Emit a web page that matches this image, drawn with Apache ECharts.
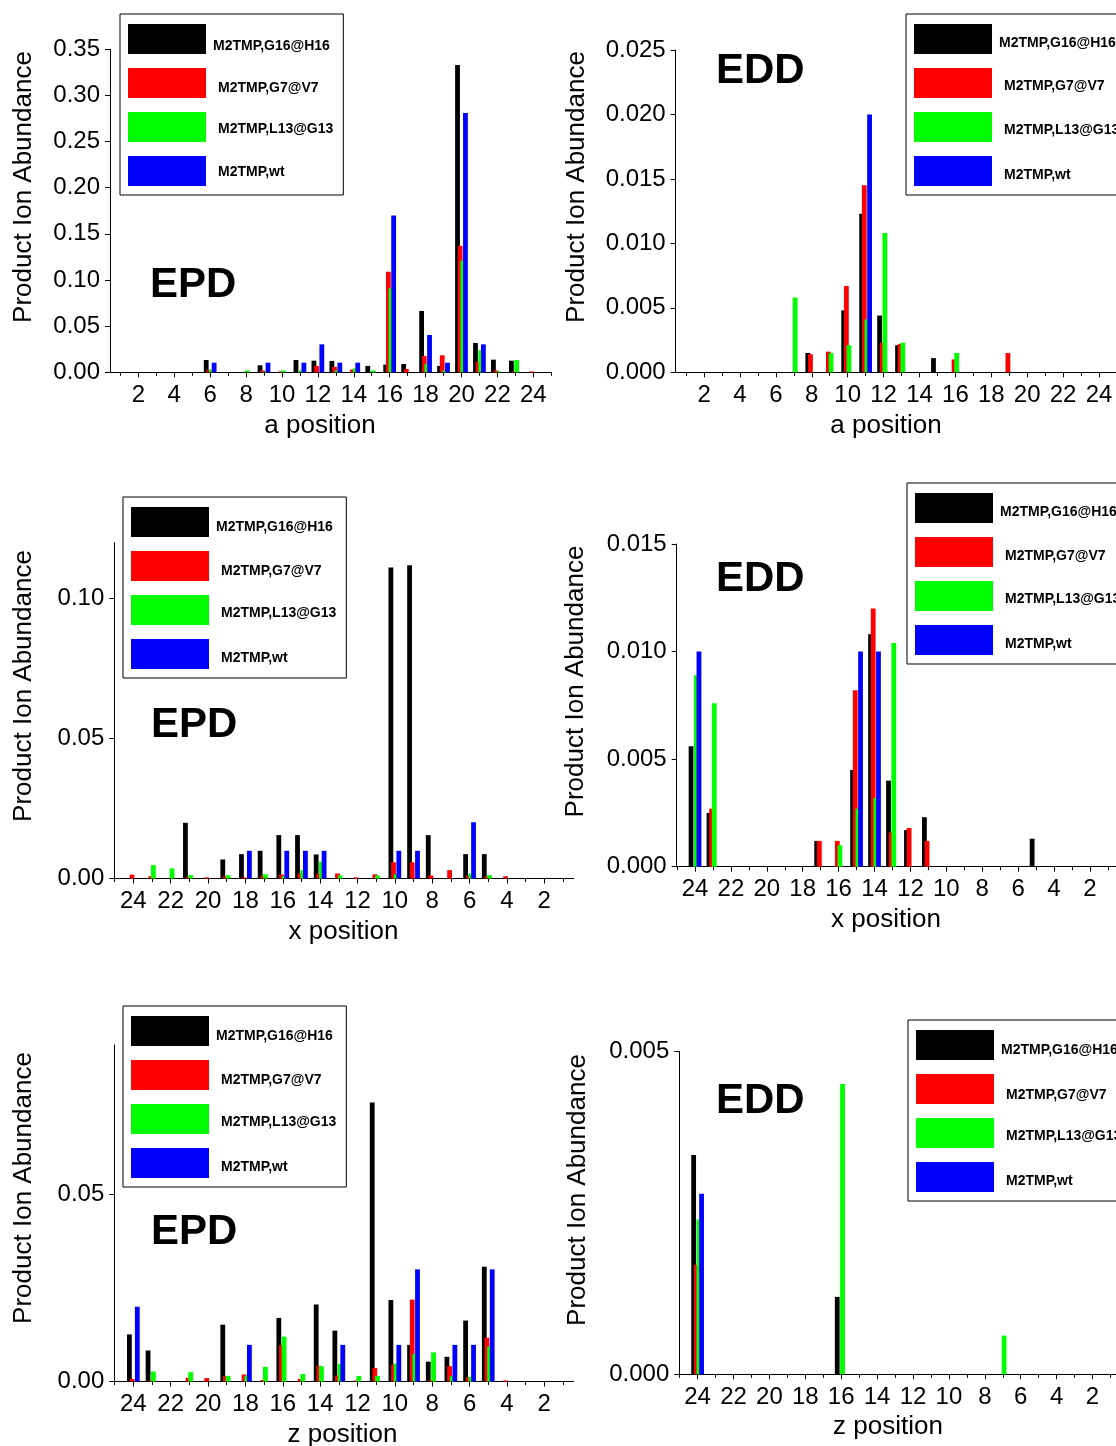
<!DOCTYPE html>
<html>
<head>
<meta charset="utf-8">
<script src="https://cdn.jsdelivr.net/npm/echarts@6/dist/echarts.min.js"></script>
<style>
html,body{margin:0;padding:0;background:#fff;}
#chart{width:1116px;height:1446px;}
</style>
</head>
<body>
<div id="chart"></div>
<script>
// ---------- data ----------
const positions = [1,2,3,4,5,6,7,8,9,10,11,12,13,14,15,16,17,18,19,20,21,22,23,24];
const majorTicks = [2,4,6,8,10,12,14,16,18,20,22,24];
const minorTicks = [1,3,5,7,9,11,13,15,17,19,21,23,25];
const seriesNames = ['M2TMP,G16@H16','M2TMP,G7@V7','M2TMP,L13@G13','M2TMP,wt'];
const seriesColors = ['#000000','#ff0000','#00ff00','#0000ff'];

// EPD, a position
const epdA_G16H16 = [0,0,0,0,0,0.0133,0,0,0.0076,0,0.0133,0.0126,0.0123,0,0.0069,0.0083,0.009,0.0665,0.0069,0.333,0.0318,0.0137,0.0126,0];
const epdA_G7V7   = [0,0,0,0,0,0.0025,0,0,0.002,0.001,0,0.0069,0.0058,0.003,0,0.109,0.0036,0.0177,0.0184,0.137,0.0116,0.002,0.001,0.001];
const epdA_L13G13 = [0,0,0,0,0,0.003,0,0.002,0.001,0.002,0.002,0,0.002,0.0043,0.002,0.091,0,0.009,0.002,0.121,0.0239,0.001,0.0133,0];
const epdA_wt     = [0,0,0,0,0,0.0104,0,0,0.0104,0,0.0104,0.0303,0.0104,0.0104,0,0.170,0,0.0404,0.0104,0.281,0.0303,0,0,0];

// EDD, a position
const eddA_G16H16 = [0,0,0,0,0,0,0,0.0015,0,0.0048,0.0123,0.0044,0.0021,0,0.0011,0,0,0,0,0,0,0,0,0];
const eddA_G7V7   = [0,0,0,0,0,0,0,0.0014,0.0016,0.0067,0.0145,0.0023,0.0022,0,0,0.001,0,0,0.0015,0,0,0,0,0];
const eddA_L13G13 = [0,0,0,0,0,0,0.0058,0,0.0015,0.0021,0.0041,0.0108,0.0023,0,0,0.0015,0,0,0,0,0,0,0,0];
const eddA_wt     = [0,0,0,0,0,0,0,0,0,0,0.020,0,0,0,0,0,0,0,0,0,0,0,0,0];

// EPD, x position
const epdX_G16H16 = [0,0,0,0,0.0087,0.0087,0,0.0155,0.1119,0.1111,0,0,0,0.0086,0.0155,0.0155,0.0099,0.0087,0.0068,0,0.0199,0,0,0];
const epdX_G7V7   = [0,0,0,0.0008,0.0008,0.001,0.003,0.0011,0.0058,0.0058,0.0015,0.0004,0.0018,0.0018,0.0018,0.0014,0.001,0.0004,0.0008,0.0004,0.0005,0,0.0008,0.0014];
const epdX_L13G13 = [0,0,0,0,0.0012,0.0018,0,0,0,0.0015,0.0011,0,0.0011,0.006,0.003,0.0008,0.0015,0,0.0012,0,0.0012,0.0036,0.0048,0];
const epdX_wt     = [0,0,0,0,0,0.0201,0,0,0.0099,0.0099,0,0,0,0.0099,0.0099,0.0099,0,0.0099,0,0,0,0,0,0];

// EDD, x position
const eddX_G16H16 = [0,0,0,0,0.0013,0,0,0,0,0,0.0023,0.0017,0.0040,0.0108,0.0045,0,0.0012,0,0,0,0,0,0.0025,0.0056];
const eddX_G7V7   = [0,0,0,0,0,0,0,0,0,0,0.0012,0.0018,0.0016,0.0120,0.0082,0.0012,0.0012,0,0,0,0,0,0.0027,0];
const eddX_L13G13 = [0,0,0,0,0,0,0,0,0,0,0,0,0.0104,0.0032,0.0027,0.0010,0,0,0,0,0,0,0.0076,0.0089];
const eddX_wt     = [0,0,0,0,0,0,0,0,0,0,0,0,0,0.0100,0.0100,0,0,0,0,0,0,0,0,0.0100];

// EPD, z position
const epdZ_G16H16 = [0,0,0,0,0.0307,0.0163,0.0066,0.0053,0.0098,0.0218,0.0746,0,0.0136,0.0206,0,0.0170,0,0,0.0152,0,0,0,0.0083,0.0126];
const epdZ_G7V7   = [0,0,0,0.0003,0.0117,0.0011,0.0041,0.0004,0.0219,0.0045,0.0036,0.0003,0.0016,0.0042,0.0007,0.0097,0.0004,0.0019,0.0015,0.0009,0.001,0,0.0003,0.0007];
const epdZ_L13G13 = [0,0,0,0,0.0094,0.0013,0.0014,0.0078,0.0074,0.0048,0.0015,0.0015,0.0047,0.0041,0.002,0.012,0.0039,0.0016,0.0015,0,0.0025,0,0.0027,0];
const epdZ_wt     = [0,0,0,0,0.030,0.0098,0.0098,0,0.030,0.0098,0,0,0.0098,0,0,0,0,0.0098,0,0,0,0,0,0.0200];

// EDD, z position
const eddZ_G16H16 = [0,0,0,0,0,0,0,0,0,0,0,0,0,0,0,0.0012,0,0,0,0,0,0,0,0.0034];
const eddZ_G7V7   = [0,0,0,0,0,0,0,0,0,0,0,0,0,0,0,0,0,0,0,0,0,0,0,0.0017];
const eddZ_L13G13 = [0,0,0,0,0,0,0.0006,0,0,0,0,0,0,0,0,0.0045,0,0,0,0,0,0,0,0.0024];
const eddZ_wt     = [0,0,0,0,0,0,0,0,0,0,0,0,0,0,0,0,0,0,0,0,0,0,0,0.0028];

// y tick values
const yTicksEpdA = [0,0.05,0.10,0.15,0.20,0.25,0.30,0.35];
const yTicksEddA = [0,0.005,0.010,0.015,0.020,0.025];
const yTicksEpdX = [0,0.05,0.10];
const yTicksEddX = [0,0.005,0.010,0.015];
const yTicksEpdZ = [0,0.05];
const yTicksEddZ = [0,0.005];

// ---------- layout ----------
const FONT = '"Liberation Sans", Arial, sans-serif';
const panels = [
  {grid:{left:110,top:49.3,width:441.6,height:323}, ymax:0.35, yticks:yTicksEpdA, dec:2, inverse:false,
   data:[epdA_G16H16,epdA_G7V7,epdA_L13G13,epdA_wt], legend:{left:120,top:14}, lh:[15,11,5,2],
   label:{text:'EPD',x:150,y:285}, ytitle:{x:24,y:187}, xtitle:{text:'a position',x:320,y:426}},
  {grid:{left:675.7,top:50,width:441.6,height:322.3}, ymax:0.025, yticks:yTicksEddA, dec:3, inverse:false,
   data:[eddA_G16H16,eddA_G7V7,eddA_L13G13,eddA_wt], legend:{left:906,top:14}, lh:[9,7,6,8],
   label:{text:'EDD',x:716,y:71}, ytitle:{x:577,y:187}, xtitle:{text:'a position',x:886,y:426}},
  {grid:{left:114.3,top:542.7,width:459.5,height:335.8}, ymax:0.12, yticks:yTicksEpdX, dec:2, inverse:true,
   data:[epdX_G16H16,epdX_G7V7,epdX_L13G13,epdX_wt], legend:{left:123,top:497}, lh:[10,10,6,8],
   label:{text:'EPD',x:151,y:725}, ytitle:{x:24,y:686}, xtitle:{text:'x position',x:343.5,y:931.5}},
  {grid:{left:676.7,top:544,width:441.6,height:322.7}, ymax:0.015, yticks:yTicksEddX, dec:3, inverse:true,
   data:[eddX_G16H16,eddX_G7V7,eddX_L13G13,eddX_wt], legend:{left:907,top:483}, lh:[9,9,6,8],
   label:{text:'EDD',x:716,y:579}, ytitle:{x:576,y:681.5}, xtitle:{text:'x position',x:886,y:919.7}},
  {grid:{left:114.3,top:1045,width:459.5,height:336.5}, ymax:0.09, yticks:yTicksEpdZ, dec:2, inverse:true,
   data:[epdZ_G16H16,epdZ_G7V7,epdZ_L13G13,epdZ_wt], legend:{left:123,top:1006}, lh:[10,10,6,8],
   label:{text:'EPD',x:151,y:1232}, ytitle:{x:24,y:1188}, xtitle:{text:'z position',x:342.5,y:1434.5}},
  {grid:{left:679.3,top:1051.7,width:441.6,height:322.6}, ymax:0.005, yticks:yTicksEddZ, dec:3, inverse:true,
   data:[eddZ_G16H16,eddZ_G7V7,eddZ_L13G13,eddZ_wt], legend:{left:908,top:1020}, lh:[10,12,6,9],
   label:{text:'EDD',x:716,y:1101}, ytitle:{x:578,y:1190}, xtitle:{text:'z position',x:888,y:1427.3}}
];

const grids=[], xAxes=[], yAxes=[], series=[], legends=[], graphics=[];
panels.forEach((p,i)=>{
  grids.push(Object.assign({outerBoundsMode:'none', containLabel:false}, p.grid));
  xAxes.push({
    gridIndex:i, type:'value', position:'bottom', min:0.42, max:25.02, inverse:p.inverse,
    splitLine:{show:false},
    axisLine:{show:true, onZero:false, lineStyle:{color:'#000', width:1}},
    axisTick:{show:true, customValues:majorTicks, length:5, lineStyle:{color:'#000', width:1}},
    axisLabel:{show:true, customValues:majorTicks, fontSize:24, fontFamily:FONT, color:'#000', margin:11}
  });
  // minor ticks: a second axis on the same grid, moved onto the bottom edge
  xAxes.push({
    gridIndex:i, type:'value', position:'top', offset:-p.grid.height, min:0.42, max:25.02, inverse:p.inverse,
    splitLine:{show:false},
    axisLine:{show:false, onZero:false},
    axisTick:{show:true, inside:true, customValues:minorTicks, length:3.5, lineStyle:{color:'#000', width:1}},
    axisLabel:{show:false}
  });
  yAxes.push({
    gridIndex:i, type:'value', min:0, max:p.ymax,
    splitLine:{show:false},
    axisLine:{show:true, lineStyle:{color:'#000', width:1}},
    axisTick:{show:true, customValues:p.yticks, length:5, lineStyle:{color:'#000', width:1}},
    axisLabel:{show:true, customValues:p.yticks, fontSize:24, fontFamily:FONT, color:'#000', margin:10,
      formatter:(v)=>Number(v).toFixed(p.dec)}
  });
  p.data.forEach((vals,k)=>{
    series.push({
      type:'bar', name:seriesNames[k], xAxisIndex:2*i, yAxisIndex:i,
      data: positions.map((pos,j)=>[pos, vals[j]]),
      barWidth:4.8, barGap:'-45%',
      itemStyle:{color:seriesColors[k]},
      emphasis:{disabled:true}, animation:false
    });
  });
  legends.push({
    left:p.legend.left, top:p.legend.top, orient:'vertical',
    itemWidth:78, itemHeight:30, itemGap:14,
    icon:'rect', borderColor:'#000', borderWidth:1, padding:[10,10,9,8],
    selectedMode:false,
    formatter:'\n{name}',
    textStyle:{fontFamily:FONT, fontWeight:'bold', fontSize:14, color:'#000'},
    data: seriesNames.map((n,k)=>({name:n, textStyle:{padding:[0,0,0,k===0?2:7], lineHeight:p.lh[k]}}))
  });
  graphics.push({type:'text', x:p.label.x, y:p.label.y, silent:true,
    style:{text:p.label.text, font:'bold 42px '+FONT, fill:'#000', align:'left', verticalAlign:'middle', textAlign:'left', textVerticalAlign:'middle'}});
  graphics.push({type:'text', x:p.ytitle.x, y:p.ytitle.y, rotation:Math.PI/2, silent:true,
    style:{text:'Product Ion Abundance', font:'26px '+FONT, fill:'#000', align:'center', verticalAlign:'middle', textAlign:'center', textVerticalAlign:'middle'}});
  graphics.push({type:'text', x:p.xtitle.x, y:p.xtitle.y, silent:true,
    style:{text:p.xtitle.text, font:'26px '+FONT, fill:'#000', align:'center', verticalAlign:'middle', textAlign:'center', textVerticalAlign:'middle'}});
});

const chart = echarts.init(document.getElementById('chart'), null, {renderer:'canvas'});
chart.setOption({
  animation:false,
  backgroundColor:'#fff',
  grid:grids, xAxis:xAxes, yAxis:yAxes, series:series, legend:legends,
  graphic:{elements:graphics}
});
</script>
</body>
</html>
